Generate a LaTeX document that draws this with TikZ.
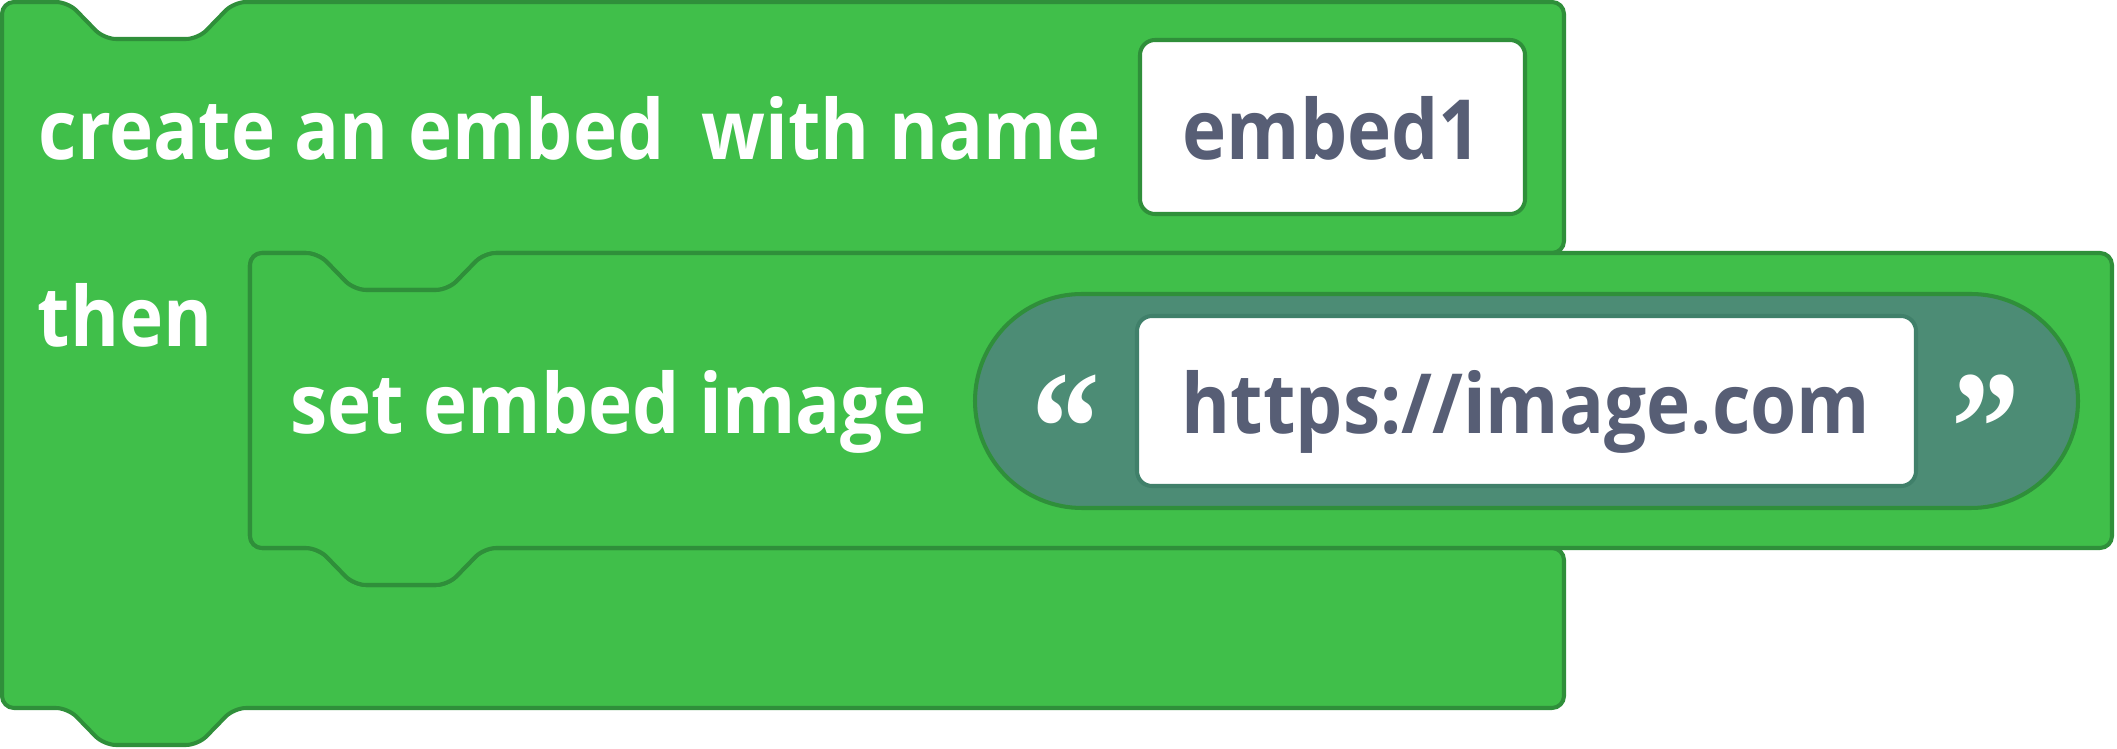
\documentclass[tikz,border=0pt]{standalone}
\usepackage{fontspec}
\setmainfont{Open Sans}[FakeStretch=0.9]
\newfontfamily\comillasfont{Liberation Serif}
\usetikzlibrary{positioning}

\definecolor{bloque}{HTML}{40BF4A}
\definecolor{borde}{HTML}{2F8F3A}
\definecolor{texto}{HTML}{575E75}
\definecolor{cadena}{HTML}{4C8C75}
\definecolor{bordecad}{HTML}{40806A}

\begin{document}
\begin{tikzpicture}[x=0.01cm, y=-0.01cm,
    pieza/.style={fill=bloque, draw=borde, line width=1.15pt, rounded corners=0.12cm, line join=round},
    etiqueta/.style={text=white, font=\bfseries\fontsize{23.6pt}{28pt}\selectfont, inner sep=0pt, anchor=base west},
    campo/.style={fill=white, line width=1.15pt, rounded corners=0.15cm},
    valor/.style={text=texto, font=\bfseries\fontsize{23.6pt}{28pt}\selectfont, inner sep=0pt, anchor=base},
    comillas/.style={text=white, font=\comillasfont\bfseries\fontsize{46pt}{46pt}\selectfont, inner sep=0pt, anchor=base}]
  \useasboundingbox (0,0) rectangle (2117,749);

  % Bloque exterior (forma de C)
  \draw[pieza] (2,2) -- (68,2) -- (104,39) -- (198,39) -- (234,2) -- (1564,2) -- (1564,253)
    -- (484,253) -- (448,290) -- (354,290) -- (318,253) -- (250,253) -- (250,548)
    -- (318,548) -- (354,585) -- (448,585) -- (484,548) -- (1564,548) -- (1564,708)
    -- (234,708) -- (198,745) -- (104,745) -- (68,708) -- (2,708) -- cycle;

  % Bloque interior
  \draw[pieza] (250,253) -- (318,253) -- (354,290) -- (448,290) -- (484,253) -- (2112,253)
    -- (2112,548) -- (484,548) -- (448,585) -- (354,585) -- (318,548) -- (250,548) -- cycle;

  % Campo del nombre
  \draw[campo, draw=borde] (1140,40) rectangle (1525,214);
  \node[valor] (nombre) at (1332,160) {embed1};

  % Bloque de texto con comillas
  \draw[fill=cadena, draw=borde, line width=1.15pt, rounded corners=1.07cm] (975,294) rectangle (2078,508);
  \draw[campo, draw=bordecad] (1137,316) rectangle (1916,486);
  \node[valor] (url) at (1526,434) {https://image.com};
  \node[comillas] (abre) at (1066,483) {\scalebox{0.85}[1]{\char"201C}};
  \node[comillas] (cierra) at (1986,483) {\scalebox{0.85}[1]{\char"201D}};

  % Etiquetas
  \node[etiqueta] (crear) at (38,160) {create an embed};
  \node[etiqueta] (con) at (701,160) {with name};
  \node[etiqueta] (luego) at (37,347) {then};
  \node[etiqueta] (fijar) at (290,434) {set embed image};
\end{tikzpicture}
\end{document}
